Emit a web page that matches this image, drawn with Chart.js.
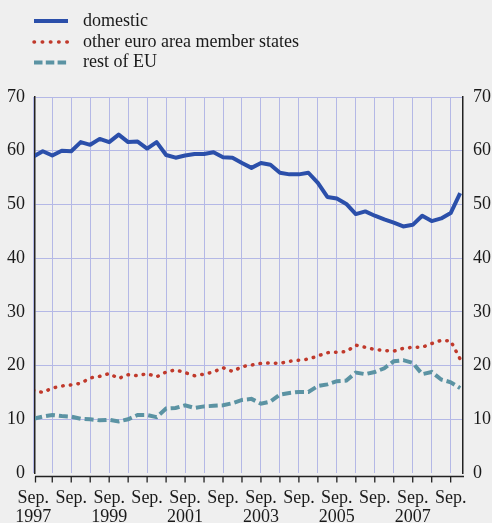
<!DOCTYPE html>
<html>
<head>
<meta charset="utf-8">
<script src="https://cdn.jsdelivr.net/npm/chart.js@4/dist/chart.umd.min.js"></script>
<style>
  html, body { margin: 0; padding: 0; background: #efefef; }
  #wrap { width: 492px; height: 523px; }
</style>
</head>
<body>
<div id="wrap"><canvas id="chart" width="492" height="523"></canvas></div>
<script>
// Quarterly shares (%), Sep. 1997 .. Dec. 2008
const domestic = [
    58.9, 59.9, 59.1, 60.0, 59.9, 61.6, 61.1, 62.2, 61.6, 63.0,
    61.6, 61.7, 60.4, 61.6, 59.2, 58.7, 59.1, 59.4, 59.4, 59.7,
    58.8, 58.7, 57.7, 56.8, 57.7, 57.4, 55.9, 55.6, 55.6, 55.9,
    54.0, 51.4, 51.1, 50.1, 48.2, 48.7, 47.9, 47.2, 46.6, 45.9,
    46.2, 47.9, 46.9, 47.4, 48.4, 52.1
];
const otherEuro = [
    15.4, 15.0, 15.8, 16.2, 16.4, 16.7, 17.7, 18.0, 18.5, 17.6,
    18.3, 18.1, 18.5, 17.9, 18.8, 19.2, 18.7, 18.1, 18.4, 18.8,
    19.6, 18.9, 19.8, 20.1, 20.4, 20.5, 20.4, 20.8, 21.0, 21.2,
    21.8, 22.4, 22.5, 22.6, 23.8, 23.4, 23.0, 22.8, 22.7, 23.2,
    23.4, 23.4, 24.1, 24.7, 24.6, 21.2
];
const restOfEU = [
    10.1, 10.5, 10.8, 10.6, 10.5, 10.1, 10.0, 9.8, 9.9, 9.6,
    10.0, 10.8, 10.8, 10.4, 12.0, 12.1, 12.6, 12.1, 12.4, 12.5,
    12.6, 13.0, 13.6, 13.8, 12.9, 13.3, 14.6, 14.9, 15.1, 15.1,
    16.2, 16.5, 17.1, 17.2, 18.7, 18.4, 18.8, 19.5, 20.8, 21.0,
    20.5, 18.4, 18.8, 17.4, 16.9, 15.8
];

const seriesNames = ['domestic', 'other euro area member states', 'rest of EU'];
const yTicks = [0, 10, 20, 30, 40, 50, 60, 70];
const tickMonth = 'Sep.';
const tickYears = ['1997', '', '1999', '', '2001', '', '2003', '', '2005', '', '2007', ''];

const gridColor = '#b4b8e6';
const textColor = '#1a1a1a';
const serif = '"Liberation Serif", "Times New Roman", serif';

// x is the quarter index counted from Sep. 1997
const toPoints = values => values.map((v, i) => ({ x: i, y: v }));
// grid / tick every half year, label every year
const tickQuarters = [];
for (let q = 0; q <= 44; q += 2) tickQuarters.push(q);

function xLabel(value) {
    if (value % 4 !== 0) return '';
    const year = tickYears[value / 4];
    return year ? [tickMonth, year] : tickMonth;
}

// legend stacked in the top-left corner
const stackedLegend = {
    id: 'stackedLegend',
    afterDraw(chart) {
        const ctx = chart.ctx;
        const rows = [21, 42, 62.5];
        chart.data.datasets.forEach((ds, k) => {
            const y = rows[k];
            ctx.save();
            ctx.strokeStyle = ds.borderColor;
            ctx.lineWidth = ds.borderWidth;
            ctx.lineCap = ds.borderCapStyle || 'butt';
            ctx.setLineDash(ds.legendDash || []);
            ctx.beginPath();
            ctx.moveTo(34, y);
            ctx.lineTo(68, y);
            ctx.stroke();
            ctx.setLineDash([]);
            ctx.fillStyle = textColor;
            ctx.font = '18px ' + serif;
            ctx.textBaseline = 'middle';
            ctx.fillText(ds.label, 83, y);
            ctx.restore();
        });
    }
};

// bottom axis line with small tick marks, slightly under the plot
const bottomAxis = {
    id: 'bottomAxis',
    afterDraw(chart) {
        const ctx = chart.ctx;
        const area = chart.chartArea;
        const xs = chart.scales.x;
        const y0 = area.bottom + 3.5;
        ctx.save();
        ctx.strokeStyle = '#222';
        ctx.lineWidth = 1.3;
        ctx.beginPath();
        ctx.moveTo(area.left, y0);
        ctx.lineTo(area.right + 1, y0);
        xs.ticks.forEach(t => {
            const px = Math.max(area.left + 0.5, xs.getPixelForValue(t.value));
            ctx.moveTo(px, y0);
            ctx.lineTo(px, y0 + 6);
        });
        ctx.stroke();
        ctx.restore();
    }
};

Chart.defaults.font.family = serif;
Chart.defaults.font.size = 18;
Chart.defaults.color = textColor;

new Chart(document.getElementById('chart'), {
    type: 'line',
    data: {
        datasets: [
            {
                label: seriesNames[0],
                data: toPoints(domestic),
                borderColor: '#2b4faa',
                borderWidth: 4,
                borderJoinStyle: 'round',
                legendDash: []
            },
            {
                label: seriesNames[1],
                data: toPoints(otherEuro),
                borderColor: '#c0392b',
                borderWidth: 3.5,
                borderCapStyle: 'round',
                borderDash: [0.5, 7.2],
                legendDash: [0.5, 7.7]
            },
            {
                label: seriesNames[2],
                data: toPoints(restOfEU),
                borderColor: '#5b93a3',
                borderWidth: 4,
                borderDash: [9, 4],
                legendDash: [8.5, 3.3]
            }
        ]
    },
    options: {
        responsive: false,
        animation: false,
        devicePixelRatio: 1,
        layout: { padding: { top: 97, left: 0, right: 0, bottom: 0 } },
        elements: {
            line: { tension: 0 },
            point: { radius: 0 }
        },
        plugins: {
            legend: { display: false },
            tooltip: { enabled: false }
        },
        scales: {
            x: {
                type: 'linear',
                min: 0.18,
                max: 45.3,
                afterBuildTicks: s => { s.ticks = tickQuarters.map(v => ({ value: v })); },
                afterFit: s => { s.height = 50; },
                grid: { color: gridColor, drawTicks: false },
                border: { display: false },
                ticks: {
                    autoSkip: false,
                    maxRotation: 0,
                    padding: 15,
                    font: { size: 18, lineHeight: 1.1 },
                    callback: value => xLabel(value)
                }
            },
            y: {
                position: 'left',
                min: 0,
                max: 70,
                afterBuildTicks: s => { s.ticks = yTicks.map(v => ({ value: v })); },
                afterFit: s => { s.width = 35; },
                grid: {
                    color: c => (c.tick && c.tick.value === 0) ? 'rgba(0,0,0,0)' : gridColor,
                    drawTicks: false
                },
                border: { display: true, color: '#222', width: 1.5 },
                ticks: { padding: 10 }
            },
            y2: {
                position: 'right',
                min: 0,
                max: 70,
                afterBuildTicks: s => { s.ticks = yTicks.map(v => ({ value: v })); },
                afterFit: s => { s.width = 29; },
                grid: { display: false, drawTicks: false },
                border: { display: true, color: '#222', width: 1.5 },
                ticks: { padding: 10 }
            }
        }
    },
    plugins: [stackedLegend, bottomAxis]
});
</script>
</body>
</html>
